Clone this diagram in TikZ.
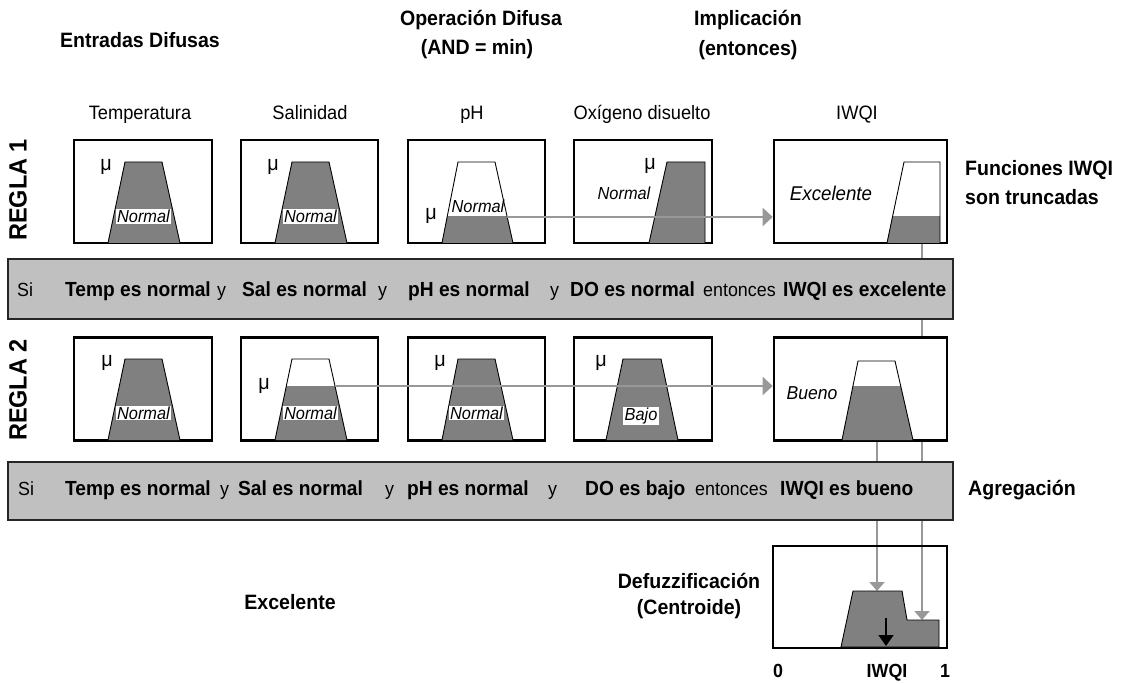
\documentclass[tikz,border=0pt]{standalone}
\usepackage{fontspec}
\setmainfont{Liberation Sans}[FakeStretch=0.94]
\usetikzlibrary{arrows.meta}
\definecolor{fillg}{HTML}{808080}
\definecolor{barg}{HTML}{C0C0C0}
\definecolor{lineg}{HTML}{989898}
\pgfdeclarelayer{bg}
\pgfsetlayers{bg,main}
\newcommand{\trapz}[7]{%
  \begin{scope}
    \clip (#1-2,#7) rectangle (#4+2,#6);
    \fill[fillg] (#1,#6) -- (#2,#5) -- (#3,#5) -- (#4,#6) -- cycle;
  \end{scope}
  \draw[trapline] (#1,#6) -- (#2,#5) -- (#3,#5) -- (#4,#6);}
\tikzset{
  mfbox/.style={draw, line width=2.6pt, fill=white, minimum height=103pt, inner sep=0pt},
  dfzbox/.style={draw, line width=2.6pt, minimum height=102pt, minimum width=174pt, inner sep=0pt},
  barbox/.style={draw=black!85, line width=1.3pt, fill=barg, inner sep=0pt, minimum width=945pt},
  trapline/.style={black, line width=0.9pt},
  rbold/.style={font=\fontsize{20.4}{24}\selectfont\bfseries, inner sep=0pt, anchor=base west},
  rreg/.style={font=\fontsize{19}{22}\selectfont, inner sep=0pt, anchor=base west},
  hdr/.style={font=\fontsize{20.8}{24}\selectfont\bfseries, inner sep=0pt},
  coltxt/.style={font=\fontsize{19.4}{22}\selectfont, inner sep=0pt, anchor=base},
  itxt/.style={font=\fontsize{17.4}{20}\selectfont\itshape, inner sep=0pt},
  wlbl/.style={font=\fontsize{17.4}{20}\selectfont\itshape, fill=white, inner xsep=1.5pt, inner ysep=1pt},
  mutxt/.style={font=\fontsize{21}{24}\selectfont, inner sep=0pt},
  gline/.style={draw=lineg, line width=2pt},
  garrow/.style={gline, -{Triangle[length=10pt,width=18pt,fill=lineg]}},
  gdarrow/.style={gline, -{Triangle[length=9pt,width=15pt,fill=lineg]}},
}
\begin{document}
\begin{tikzpicture}[x=1pt,y=-1pt]
\useasboundingbox (0,0) rectangle (1123,684);

% headers
\node[hdr] (hEnt) at (140,40) {Entradas Difusas};
\node[hdr] (hOp1) at (481,20) {Operación Difusa};
\node[hdr] (hOp2) at (477,49) {(AND = min)};
\node[hdr] (hIm1) at (748,20) {Implicación};
\node[hdr] (hIm2) at (748,50) {(entonces)};

% column labels
\node[coltxt] (cT) at (140,120) {Temperatura};
\node[coltxt] (cS) at (310,120) {Salinidad};
\node[coltxt] (cP) at (472,120) {pH};
\node[coltxt] (cO) at (642,120) {Oxígeno disuelto};
\node[coltxt] (cI) at (857,120) {IWQI};

% rule labels
\node[rotate=90, font=\fontsize{25}{28}\selectfont\bfseries, inner sep=0pt] (reg1) at (18,190) {REGLA 1};
\node[rotate=90, font=\fontsize{25}{28}\selectfont\bfseries, inner sep=0pt] (reg2) at (18,390) {REGLA 2};

% ---- rule 1 boxes
\node[mfbox, minimum width=138pt] (r1t) at (143,191.5) {};
\node[mfbox, minimum width=137pt] (r1s) at (309.5,191.5) {};
\node[mfbox, minimum width=137pt] (r1p) at (476.5,191.5) {};
\node[mfbox, minimum width=138pt] (r1o) at (643,191.5) {};
\node[mfbox, minimum width=173pt] (r1i) at (860.5,191.5) {};

\trapz{108}{125}{162}{180}{162}{243}{162}
\trapz{275}{292}{329}{347}{162}{243}{162}
\trapz{442}{458}{495}{513}{162}{243}{217}
\trapz{649}{667}{705}{705}{162}{243}{162}
\trapz{887}{904}{940}{940}{162}{243}{217}

\node[mutxt] (m1t) at (106,167) {μ};
\node[mutxt] (m1s) at (273,167) {μ};
\node[mutxt] (m1p) at (431,216) {μ};
\node[mutxt] (m1o) at (650,166) {μ};
\node[wlbl] (n1t) at (143.5,216.5) {Normal};
\node[wlbl] (n1s) at (310.5,216.5) {Normal};
\node[itxt] (n1p) at (478,206) {Normal};
\node[itxt] (n1o) at (624,193) {Normal};
\node[itxt, font=\fontsize{19.9}{22}\selectfont\itshape] (n1i) at (831,193) {Excelente};

% ---- rule 2 boxes
\node[mfbox, minimum width=138pt] (r2t) at (143,389) {};
\node[mfbox, minimum width=137pt] (r2s) at (309.5,389) {};
\node[mfbox, minimum width=137pt] (r2p) at (476.5,389) {};
\node[mfbox, minimum width=138pt] (r2o) at (643,389) {};
\node[mfbox, minimum width=173pt] (r2i) at (860.5,389) {};

\trapz{108}{125}{162}{180}{359}{440}{359}
\trapz{275}{292}{329}{347}{359}{440}{386}
\trapz{442}{458}{495}{513}{359}{440}{359}
\trapz{606}{623}{661}{678}{359}{440}{359}
\trapz{842}{858}{895}{913}{361}{440}{386}

\node[mutxt] (m2t) at (107,363) {μ};
\node[mutxt] (m2s) at (264,386) {μ};
\node[mutxt] (m2p) at (440,363) {μ};
\node[mutxt] (m2o) at (601,363) {μ};
\node[wlbl] (n2t) at (143.5,413) {Normal};
\node[wlbl] (n2s) at (310.5,413) {Normal};
\node[wlbl] (n2p) at (476.5,413) {Normal};
\node[wlbl] (n2o) at (641,416) {Bajo};
\node[itxt, font=\fontsize{18.7}{21}\selectfont\itshape] (n2i) at (812,393) {Bueno};

% ---- truncation connectors
\coordinate (cut1) at (507,217);
\coordinate (cut2) at (335,386);
\draw[garrow] (cut1) -- (r1i.west |- cut1);
\draw[garrow] (cut2) -- (r2i.west |- cut2);

% ---- defuzzification box
\node[dfzbox] (dfz) at (860,597) {};
\fill[fillg, draw=black, line width=0.9pt] (841,647) -- (853,591) -- (902,591) -- (907,620) -- (939,620) -- (939,647) -- cycle;
\coordinate (aggA) at (877,591);
\coordinate (aggB) at (922,620);
\coordinate (cen) at (886,618);
\coordinate (cenb) at (886,646);
\draw[black, line width=1.5pt, -{Triangle[length=11pt,width=15pt]}] (cen) -- (cenb);

\begin{pgfonlayer}{bg}
\draw[gdarrow] (aggA |- r2i.south) -- (aggA);
\draw[gdarrow] (aggB |- r1i.south) -- (aggB);
\end{pgfonlayer}

% ---- bars
\node[barbox, minimum height=60pt] (bar1) at (480.5,289) {};
\node[rreg] (b1si) at (17,296) {Si};
\node[rbold] (b1t) at (65,296) {Temp es normal};
\node[rreg] (b1y1) at (217,296) {y};
\node[rbold] (b1s) at (242,296) {Sal es normal};
\node[rreg] (b1y2) at (378,296) {y};
\node[rbold] (b1p) at (408,296) {pH es normal};
\node[rreg] (b1y3) at (550,296) {y};
\node[rbold] (b1o) at (570,296) {DO es normal};
\node[rreg] (b1e) at (703,296) {entonces};
\node[rbold] (b1i) at (783,296) {IWQI es excelente};

\node[barbox, minimum height=58pt] (bar2) at (480.5,491) {};
\node[rreg] (b2si) at (18,495) {Si};
\node[rbold] (b2t) at (65,495) {Temp es normal};
\node[rreg] (b2y1) at (220,495) {y};
\node[rbold] (b2s) at (238,495) {Sal es normal};
\node[rreg] (b2y2) at (385,495) {y};
\node[rbold] (b2p) at (407,495) {pH es normal};
\node[rreg] (b2y3) at (548,495) {y};
\node[rbold] (b2o) at (585,495) {DO es bajo};
\node[rreg] (b2e) at (695,495) {entonces};
\node[rbold] (b2i) at (780,495) {IWQI es bueno};

% ---- side labels
\node[hdr, anchor=west] (fIW1) at (965,170) {Funciones IWQI};
\node[hdr, anchor=west] (fIW2) at (965,197) {son truncadas};
\node[hdr, anchor=west] (agr) at (968,490) {Agregación};

% ---- bottom labels
\node[hdr] (exc) at (290,602) {Excelente};
\node[hdr] (dfz1) at (689,581) {Defuzzificación};
\node[hdr] (dfz2) at (689,609) {(Centroide)};
\node[hdr, anchor=base, font=\fontsize{19}{22}\selectfont\bfseries] (ax0) at (778,677) {0};
\node[hdr, anchor=base, font=\fontsize{19}{22}\selectfont\bfseries] (axI) at (887,677) {IWQI};
\node[hdr, anchor=base, font=\fontsize{19}{22}\selectfont\bfseries] (ax1) at (945,677) {1};
\end{tikzpicture}
\end{document}
